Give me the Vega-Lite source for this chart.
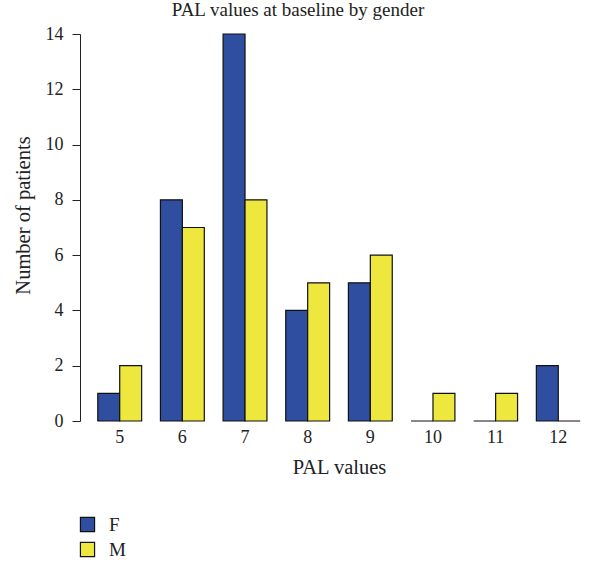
{
  "$schema": "https://vega.github.io/schema/vega-lite/v6.json",
  "autosize": {"type": "none"},
  "width": 510,
  "height": 387,
  "padding": {"left": 84, "top": 34, "right": 0, "bottom": 143},
  "config": {
    "font": "Liberation Serif",
    "view": {"stroke": null},
    "axis": {"labelFont": "Liberation Serif", "titleFont": "Liberation Serif", "labelColor": "#222", "titleColor": "#222", "titleFontWeight": "normal"},
    "legend": {"labelFont": "Liberation Serif"}
  },
  "title": {"text": "PAL values at baseline by gender", "fontSize": 19, "fontWeight": "normal", "font": "Liberation Serif", "color": "#222", "anchor": "middle", "dx": -41, "offset": 5},
  "data": {"values": [
    {"pal": 5, "gender": "F", "n": 1}, {"pal": 5, "gender": "M", "n": 2},
    {"pal": 6, "gender": "F", "n": 8}, {"pal": 6, "gender": "M", "n": 7},
    {"pal": 7, "gender": "F", "n": 14}, {"pal": 7, "gender": "M", "n": 8},
    {"pal": 8, "gender": "F", "n": 4}, {"pal": 8, "gender": "M", "n": 5},
    {"pal": 9, "gender": "F", "n": 5}, {"pal": 9, "gender": "M", "n": 6},
    {"pal": 10, "gender": "F", "n": 0}, {"pal": 10, "gender": "M", "n": 1},
    {"pal": 11, "gender": "F", "n": 0}, {"pal": 11, "gender": "M", "n": 1},
    {"pal": 12, "gender": "F", "n": 2}, {"pal": 12, "gender": "M", "n": 0}
  ]},
  "mark": {"type": "bar", "stroke": "#111", "strokeWidth": 1.2},
  "encoding": {
    "x": {"field": "pal", "type": "ordinal", "title": "PAL values",
      "scale": {"paddingInner": 0.3, "paddingOuter": 0.22},
      "axis": {"labelAngle": 0, "domain": false, "ticks": false, "labelFontSize": 18, "labelPadding": 7, "titleFontSize": 20.5, "titlePadding": 11}},
    "xOffset": {"field": "gender", "type": "nominal", "scale": {"paddingInner": 0, "paddingOuter": 0}},
    "y": {"field": "n", "type": "quantitative", "title": "Number of patients",
      "scale": {"domain": [0, 14], "nice": false},
      "axis": {"values": [0, 2, 4, 6, 8, 10, 12, 14], "grid": false, "domainColor": "#222", "tickColor": "#222", "tickSize": 8, "labelFontSize": 18, "labelPadding": 9, "titleFontSize": 20.5, "titlePadding": 12, "titleY": 181, "offset": 4}},
    "color": {"field": "gender", "type": "nominal",
      "scale": {"domain": ["F", "M"], "range": ["#2F4EA0", "#EEE83E"]},
      "legend": {"title": null, "orient": "none", "legendX": -6, "legendY": 481, "direction": "vertical", "symbolType": "square", "symbolSize": 200, "symbolStrokeColor": "#111", "symbolStrokeWidth": 1.2, "labelFontSize": 19, "labelColor": "#222", "rowPadding": 5, "labelOffset": 12}}
  }
}
